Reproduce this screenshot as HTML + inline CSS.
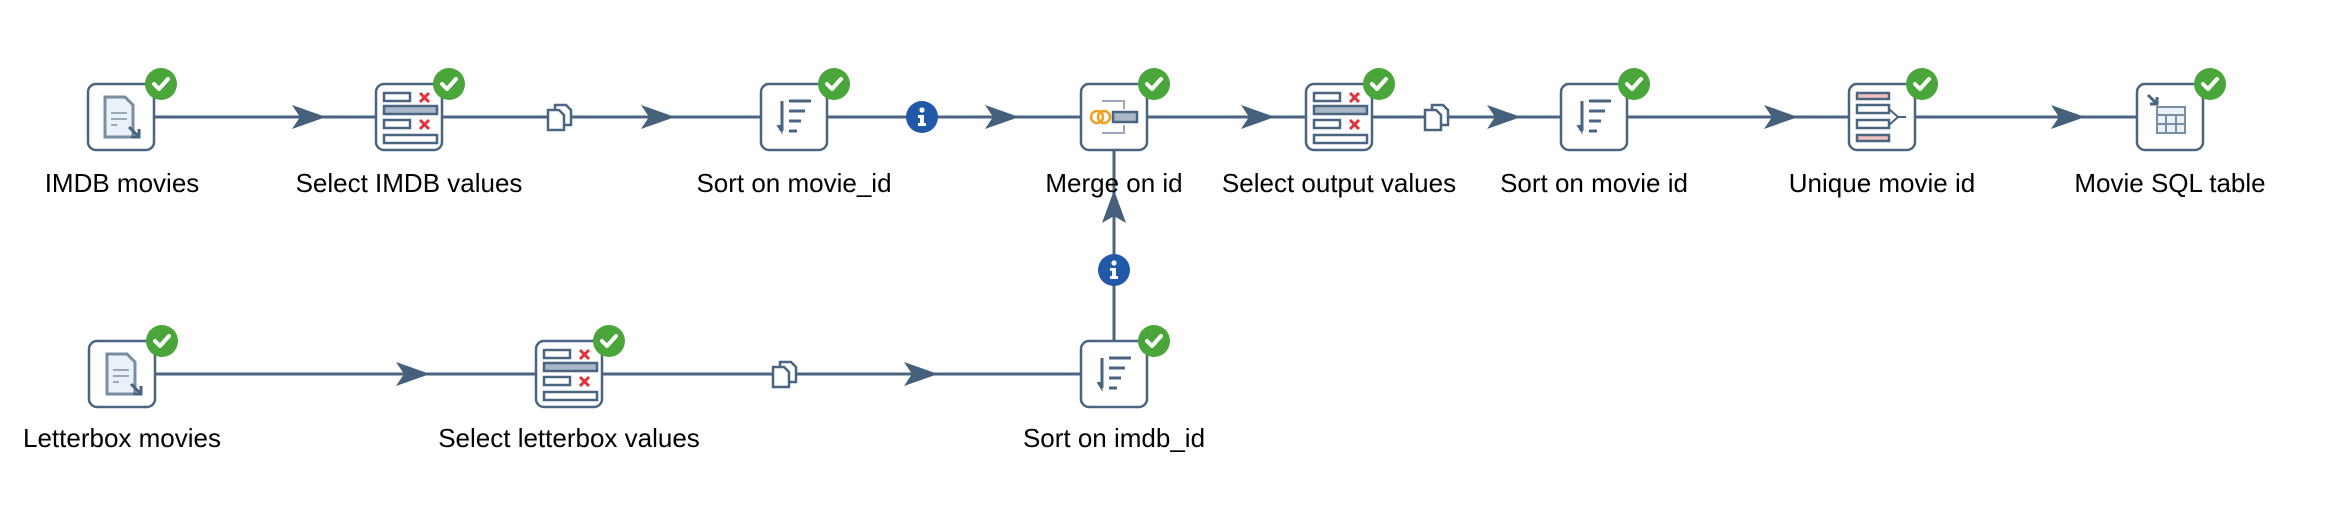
<!DOCTYPE html>
<html><head><meta charset="utf-8"><style>
html,body{margin:0;padding:0;background:#fff;}
svg{display:block;}
text{font-family:"Liberation Sans",Arial,sans-serif;font-size:26px;fill:#000;}
</style></head><body>
<svg width="2346" height="518" viewBox="0 0 2346 518" xmlns="http://www.w3.org/2000/svg">
<defs>
  <g id="badge">
    <circle cx="0" cy="0" r="16" fill="#4aa63a"/>
    <path d="M-7,0 L-2,5 L7,-5" stroke="#fff" stroke-width="4" fill="none" stroke-linecap="round" stroke-linejoin="round"/>
  </g>
  <g id="info">
    <circle cx="0" cy="0" r="16" fill="#2158a8"/>
    <circle cx="0" cy="-7" r="2.6" fill="#fff"/>
    <path d="M-4,-2 H2 V6 H4 V9 H-4 V6 H-2 V1 H-4 Z" fill="#fff"/>
  </g>
  <g id="copy" fill="#fff" stroke="#4a6580" stroke-width="2.5">
    <path d="M-6,-12 H5 L10,-7 V8 H-6 Z"/>
    <path d="M-13,-7 H-2 L3,-2 V13 H-13 Z"/>
  </g>
  <g id="doc">
    <path d="M-14,-20 H6 L14,-12 V20 H-14 Z" fill="#eaf1f8" stroke="#7a8ea3" stroke-width="3"/>
    <path d="M-8,-4 H8 M-8,2 H8 M-8,8 H-2" stroke="#9aa8b8" stroke-width="2"/>
    <path d="M10,10 L20,20 M20,12 V20 H12" stroke="#4a6580" stroke-width="3" fill="none"/>
  </g>
  <g id="sel" stroke="#4a6580" stroke-width="2.5">
    <rect x="-25" y="-24" width="26" height="8" fill="#fff"/>
    <rect x="-25" y="-11" width="53" height="8" fill="#a9b8c8"/>
    <rect x="-25" y="3" width="26" height="8" fill="#fff"/>
    <rect x="-25" y="18" width="53" height="8" fill="#fff"/>
    <path d="M11,-24 L20,-15 M20,-24 L11,-15 M11,3 L20,12 M20,3 L11,12" stroke="#e0333a" stroke-width="3"/>
  </g>
  <g id="sort" stroke="#4a6580" stroke-width="3" fill="none">
    <path d="M-12,-16 V14"/>
    <path d="M-17,8 L-12,16 L-12,8" fill="#4a6580" stroke-width="1"/>
    <path d="M-5,-16 H17 M-5,-6 H11 M-5,4 H7 M-5,14 H3"/>
  </g>
  <g id="arrowR"><path d="M-34,-12 L0,0 L-34,12 L-26,0 Z" fill="#44607a"/></g>
</defs>

<g stroke="#4a6580" stroke-width="3" fill="none">
  <line x1="153" y1="117" x2="1081" y2="117"/>
  <line x1="1147" y1="117" x2="2139" y2="117"/>
  <line x1="155" y1="374" x2="1080" y2="374"/>
  <line x1="1114" y1="341" x2="1114" y2="151"/>
</g>

<use href="#arrowR" x="326" y="117"/>
<use href="#arrowR" x="675" y="117"/>
<use href="#arrowR" x="1019" y="117"/>
<use href="#arrowR" x="1275" y="117"/>
<use href="#arrowR" x="1521" y="117"/>
<use href="#arrowR" x="1798" y="117"/>
<use href="#arrowR" x="2085" y="117"/>
<use href="#arrowR" x="430" y="374"/>
<use href="#arrowR" x="938" y="374"/>
<path d="M1114,190 L1126,223 L1114,216 L1102,223 Z" fill="#44607a"/>

<use href="#copy" x="561" y="117"/>
<use href="#copy" x="1438" y="117"/>
<use href="#copy" x="786" y="374"/>
<use href="#info" x="922" y="117"/>
<use href="#info" x="1114" y="270"/>

<g fill="#fff" stroke="#4a6580" stroke-width="2.5">
  <rect x="88" y="84" width="66" height="66" rx="8"/>
  <rect x="376" y="84" width="66" height="66" rx="8"/>
  <rect x="761" y="84" width="66" height="66" rx="8"/>
  <rect x="1081" y="84" width="66" height="66" rx="8"/>
  <rect x="1306" y="84" width="66" height="66" rx="8"/>
  <rect x="1561" y="84" width="66" height="66" rx="8"/>
  <rect x="1849" y="84" width="66" height="66" rx="8"/>
  <rect x="2137" y="84" width="66" height="66" rx="8"/>
  <rect x="89" y="341" width="66" height="66" rx="8"/>
  <rect x="536" y="341" width="66" height="66" rx="8"/>
  <rect x="1081" y="341" width="66" height="66" rx="8"/>
</g>

<use href="#doc" x="119" y="117"/>
<use href="#sel" x="409" y="117"/>
<use href="#sort" x="794" y="117"/>
<g transform="translate(1114,117)">
  <path d="M-12,-16 H10 V-8 M-12,16 H10 V8" stroke="#9aa8b8" stroke-width="2" fill="none"/>
  <circle cx="-17" cy="0" r="6" stroke="#f0a020" stroke-width="2.5" fill="none"/>
  <circle cx="-10" cy="0" r="6" stroke="#f0a020" stroke-width="2.5" fill="none"/>
  <rect x="-1" y="-5" width="24" height="10" fill="#a9b8c8" stroke="#4a6580" stroke-width="2.5"/>
</g>
<use href="#sel" x="1339" y="117"/>
<use href="#sort" x="1594" y="117"/>
<g transform="translate(1882,117)" stroke="#4a6580" stroke-width="2.5">
  <rect x="-25" y="-24" width="32" height="6" fill="#f3c0c0"/>
  <rect x="-25" y="-12" width="32" height="8" fill="#fff"/>
  <rect x="-25" y="3" width="32" height="8" fill="#fff"/>
  <rect x="-25" y="18" width="32" height="6" fill="#f3c0c0"/>
  <path d="M7,-8 L16,0 L7,8 M16,0 H24" fill="none" stroke-width="2"/>
</g>
<g transform="translate(2170,117)" stroke="#7a8ea3" stroke-width="2" fill="#eaf1f8">
  <rect x="-13" y="-10" width="28" height="26"/>
  <path d="M-13,-2 H15 M-13,7 H15 M-4,-2 V16 M6,-2 V16" fill="none"/>
  <path d="M-22,-22 L-13,-13 M-13,-20 V-13 H-20" stroke="#4a6580" stroke-width="3" fill="none"/>
</g>

<use href="#doc" x="121" y="374"/>
<use href="#sel" x="569" y="374"/>
<use href="#sort" x="1114" y="374"/>

<use href="#badge" x="161" y="84"/>
<use href="#badge" x="449" y="84"/>
<use href="#badge" x="834" y="84"/>
<use href="#badge" x="1154" y="84"/>
<use href="#badge" x="1379" y="84"/>
<use href="#badge" x="1634" y="84"/>
<use href="#badge" x="1922" y="84"/>
<use href="#badge" x="2210" y="84"/>
<use href="#badge" x="162" y="341"/>
<use href="#badge" x="609" y="341"/>
<use href="#badge" x="1154" y="341"/>

<g text-anchor="middle">
  <text x="122" y="192">IMDB movies</text>
  <text x="409" y="192">Select IMDB values</text>
  <text x="794" y="192">Sort on movie_id</text>
  <text x="1114" y="192">Merge on id</text>
  <text x="1339" y="192">Select output values</text>
  <text x="1594" y="192">Sort on movie id</text>
  <text x="1882" y="192">Unique movie id</text>
  <text x="2170" y="192">Movie SQL table</text>
  <text x="122" y="447">Letterbox movies</text>
  <text x="569" y="447">Select letterbox values</text>
  <text x="1114" y="447">Sort on imdb_id</text>
</g>
</svg>
</body></html>
